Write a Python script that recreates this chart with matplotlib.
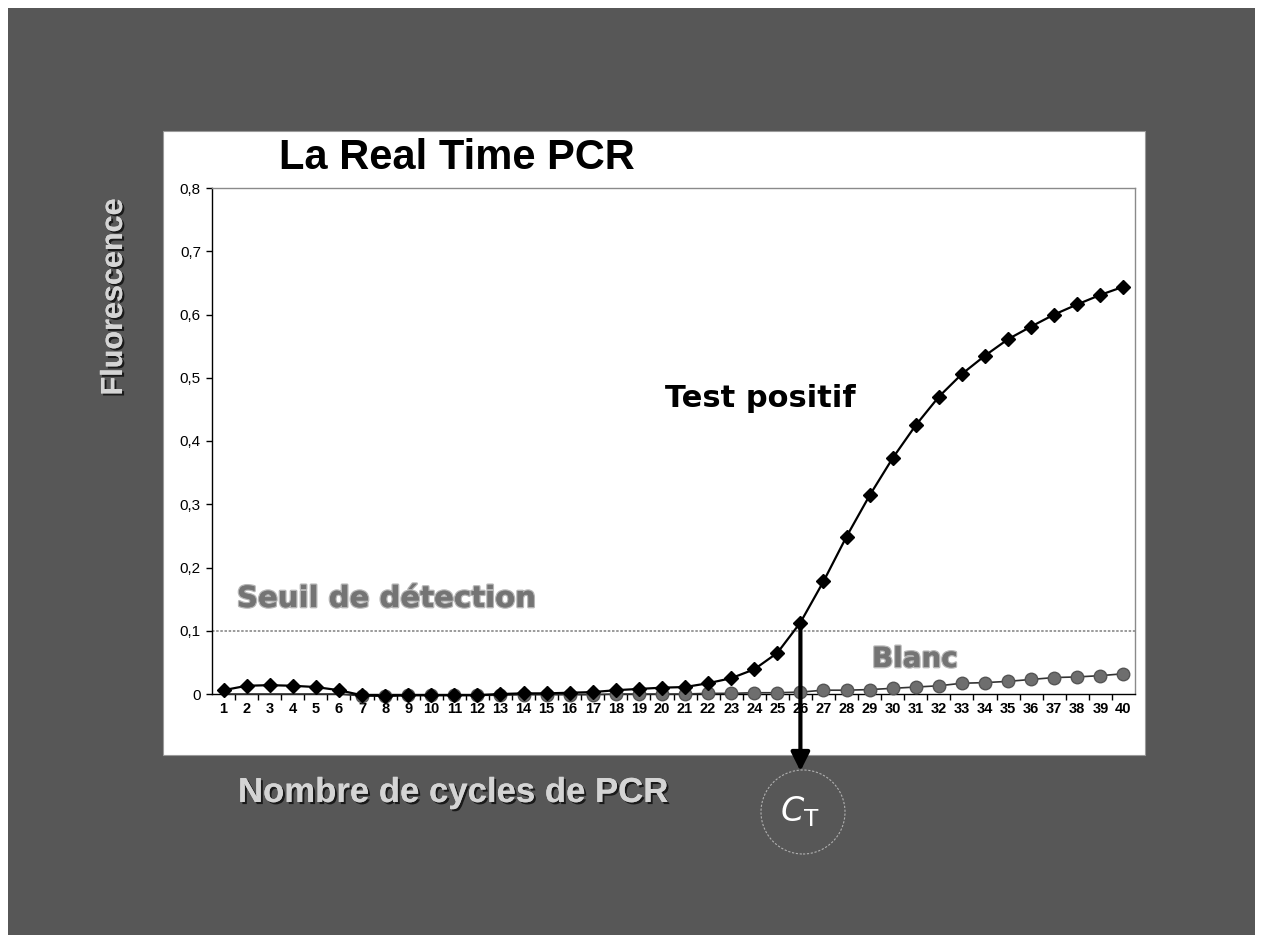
import matplotlib.pyplot as plt
import matplotlib.patheffects as pe
from matplotlib.patches import Rectangle, Ellipse

# PCR cycles and fluorescence readings
cycles = list(range(1, 41))
positive = [0.006, 0.013, 0.014, 0.013, 0.011, 0.006, -0.002, -0.003, -0.002, -0.002,
            -0.002, -0.002, 0.0, 0.001, 0.001, 0.002, 0.003, 0.006, 0.008, 0.010,
            0.011, 0.017, 0.025, 0.039, 0.065, 0.113, 0.178, 0.249, 0.314, 0.373,
            0.425, 0.470, 0.506, 0.535, 0.561, 0.581, 0.600, 0.616, 0.631, 0.644]
blank = [0.0, 0.0, 0.0, 0.0, 0.0, 0.0, -0.003, -0.003, -0.002, -0.002,
         -0.002, -0.002, -0.002, -0.001, -0.001, -0.001, -0.001, 0.0, 0.0, 0.0,
         0.0, 0.001, 0.001, 0.002, 0.002, 0.003, 0.006, 0.006, 0.007, 0.009,
         0.011, 0.013, 0.017, 0.018, 0.020, 0.023, 0.026, 0.027, 0.029, 0.032]
threshold = 0.1
ct_cycle = 26
y_ticks = [0, 0.1, 0.2, 0.3, 0.4, 0.5, 0.6, 0.7, 0.8]
y_labels = ['0', '0,1', '0,2', '0,3', '0,4', '0,5', '0,6', '0,7', '0,8']

W, H = 1263, 935


def fx(x):
    return x / W


def fy(y):
    return 1 - y / H


fig = plt.figure(figsize=(W / 100, H / 100), dpi=100)
fig.patch.set_facecolor('white')

# slide background and white chart panel
fig.patches.append(Rectangle((fx(8), 0), (1255 - 8) / W, fy(8), transform=fig.transFigure,
                             facecolor='#575757', edgecolor='none', zorder=0))
fig.patches.append(Rectangle((fx(163), fy(755)), (1145 - 163) / W, (755 - 131) / H,
                             transform=fig.transFigure, facecolor='white',
                             edgecolor='#9a9a9a', lw=0.8, zorder=1))

ax = fig.add_axes([fx(212), fy(694), (1135 - 212) / W, (694 - 188) / H])
ax.set_zorder(3)
ax.set_facecolor('white')
ax.set_xlim(0.5, 40.5)
ax.set_ylim(0, 0.8)

# threshold line
ax.plot([0.5, 40.5], [threshold, threshold], color='#8a8a8a', lw=1.2,
        linestyle=(0, (1.5, 1)), zorder=2)

# series
ax.plot(cycles, blank, color='#333333', lw=1.2, marker='o', ms=9,
        markerfacecolor='#6e6e6e', markeredgecolor='#555555', markevery=slice(6, None),
        clip_on=False, zorder=3)
ax.plot(cycles, positive, color='black', lw=1.6, marker='D', ms=7,
        markerfacecolor='black', markeredgecolor='black', clip_on=False, zorder=4)

# arrow at the threshold crossing
ax.annotate('', xy=(ct_cycle, -0.122), xytext=(ct_cycle, positive[ct_cycle - 1]),
            arrowprops=dict(arrowstyle='-|>', color='black', lw=3, mutation_scale=28,
                            shrinkA=0, shrinkB=0),
            annotation_clip=False, zorder=6)

# axes styling
for side in ['left', 'bottom']:
    ax.spines[side].set_color('black')
    ax.spines[side].set_linewidth(1)
for side in ['top', 'right']:
    ax.spines[side].set_color('#8a8a8a')
    ax.spines[side].set_linewidth(1)

ax.set_yticks(y_ticks)
ax.set_yticklabels(y_labels, family='Liberation Sans', fontsize=11)
ax.tick_params(axis='y', direction='out', length=4, width=1, pad=4, colors='black')

ax.set_xticks(cycles)
ax.set_xticklabels([str(c) for c in cycles],
                   family=['Liberation Sans Narrow', 'Liberation Sans'],
                   fontsize=10.5, fontweight='bold')
ax.set_xticks([c + 0.5 for c in cycles[:-1]], minor=True)
ax.tick_params(axis='x', which='major', length=0, pad=6)
ax.tick_params(axis='x', which='minor', direction='out', length=4, width=1)

# texts
fig.text(fx(457), fy(169), 'La Real Time PCR', family='Liberation Sans',
         fontweight='bold', fontsize=30, ha='center', va='baseline', color='black')

shadow = [pe.withSimplePatchShadow(offset=(1.5, -1.5), shadow_rgbFace='black', alpha=0.7),
          pe.Normal()]
fig.text(fx(114), fy(297), 'Fluorescence', family='Liberation Sans', fontsize=22,
         fontweight='bold', rotation=90, ha='center', va='center', color='#d4d4d4',
         path_effects=shadow)
fig.text(fx(238), fy(802), 'Nombre de cycles de PCR', family='Liberation Sans',
         fontsize=25, fontweight='bold', ha='left', va='baseline', color='#d4d4d4',
         path_effects=shadow)

fig.text(fx(665), fy(407), 'Test positif', family='DejaVu Sans', fontsize=22,
         fontweight='bold', ha='left', va='baseline', color='black', zorder=5)

gray_fx = [pe.withStroke(linewidth=2, foreground='#b5b5b5'), pe.Normal()]
fig.text(fx(237), fy(607), 'Seuil de détection', family='DejaVu Sans', fontsize=21,
         fontweight='bold', ha='left', va='baseline', color='#747474',
         path_effects=gray_fx, zorder=5)
fig.text(fx(872), fy(667), 'Blanc', family='DejaVu Sans', fontsize=20,
         fontweight='bold', ha='left', va='baseline', color='#747474',
         path_effects=gray_fx, zorder=5)

# C_T circle
fig.patches.append(Ellipse((fx(803), fy(812)), 84 / W, 84 / H, transform=fig.transFigure,
                           facecolor='none', edgecolor='#b0b0b0', lw=0.8,
                           linestyle=(0, (2, 1.5)), zorder=2))
fig.text(fx(800), fy(812), r'$C_{\mathrm{T}}$', fontsize=24, ha='center', va='center',
         color='white')

fig.savefig('out.png', dpi=100)
